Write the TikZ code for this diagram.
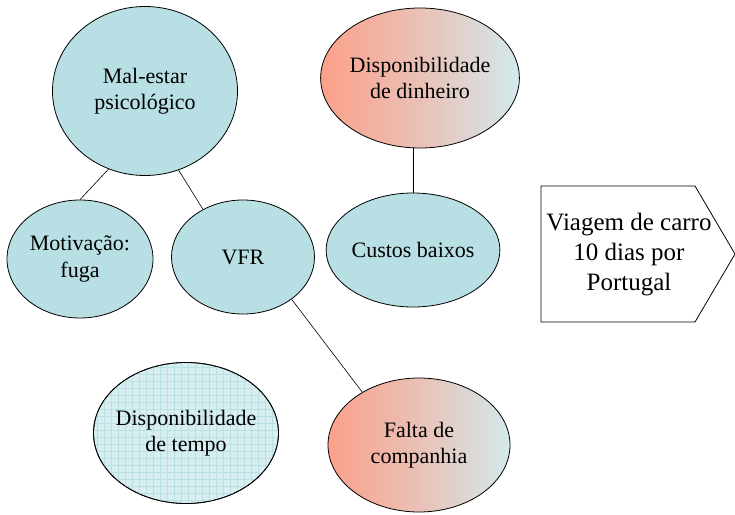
\documentclass[tikz,border=0pt]{standalone}
\usepackage{fontspec}
\setmainfont{Liberation Serif}
\newfontfamily\tnr{Liberation Serif}
\usetikzlibrary{shapes.geometric}
\definecolor{teal1}{HTML}{B8DFE3}
\definecolor{salmon}{HTML}{FCA08A}
\definecolor{pale}{HTML}{D3E9EC}
\definecolor{tempofill}{HTML}{D8EFF2}
\definecolor{tempogrid}{HTML}{BCDFE4}
\tikzset{
  txt/.style={font=\tnr\fontsize{22}{26.5}\selectfont, align=center},
  bubble/.style={ellipse, draw=black, line width=0.8pt, txt, inner sep=0pt},
  plain/.style={bubble, fill=teal1},
  grad/.style={bubble, left color=salmon, right color=pale, middle color=pale!45!salmon},
  link/.style={draw=black, line width=0.6pt},
}
\begin{document}
\begin{tikzpicture}[x=1pt,y=-1pt]
\useasboundingbox (0,0) rectangle (735,514);
% nodes
\node[plain, minimum width=185, minimum height=169] (mal) at (145,91) {Mal-estar\\psicológico};
\node[plain, minimum width=146, minimum height=118] (mot) at (80,259) {Motivação:\\fuga};
\node[plain, minimum width=143, minimum height=114] (vfr) at (243,257) {VFR};
\node[grad, minimum width=185, minimum height=140] (din) at (420,78) {Disponibilidade\\de dinheiro};
\node[plain, minimum width=144, minimum height=114] (cus) at (413,250) {Custos baixos};
\node[grad, minimum width=182, minimum height=134] (fal) at (419,445) {Falta de\\companhia};
% disponibilidade de tempo with grid pattern
\node[bubble, fill=tempofill, minimum width=185, minimum height=141] (tem) at (186,433) {};
\begin{scope}
  \clip (186,433) ellipse [x radius=92.5, y radius=70.5];
  \foreach \gx in {90,97,...,285} \draw[tempogrid, line width=0.5pt] (\gx,360) -- (\gx,510);
  \foreach \gy in {360,367,...,510} \draw[tempogrid, line width=0.5pt] (90,\gy) -- (285,\gy);
\end{scope}
\draw[black, line width=0.8pt] (186,433) ellipse [x radius=92.5, y radius=70.5];
\node[txt] (temtxt) at (tem.center) {Disponibilidade\\de tempo};
% pentagon arrow
\coordinate (p1) at (541,186);
\coordinate (p2) at (695,186);
\coordinate (p3) at (735,254);
\coordinate (p4) at (695,322);
\coordinate (p5) at (541,322);
\draw[line width=0.8pt, fill=white] (p1) -- (p2) -- (p3) -- (p4) -- (p5) -- cycle;
\node[txt, font=\tnr\fontsize{25}{30}\selectfont] (via) at (629,255) {Viagem de carro\\10 dias por\\Portugal};
% connectors
\draw[link] (mal.245) -- (mot.north);
\draw[link] (mal.293) -- (vfr.130);
\draw[link] (cus.north) -- (cus.north |- din.south);
\draw[link] (vfr.-41) -- (fal.137);
\end{tikzpicture}
\end{document}
